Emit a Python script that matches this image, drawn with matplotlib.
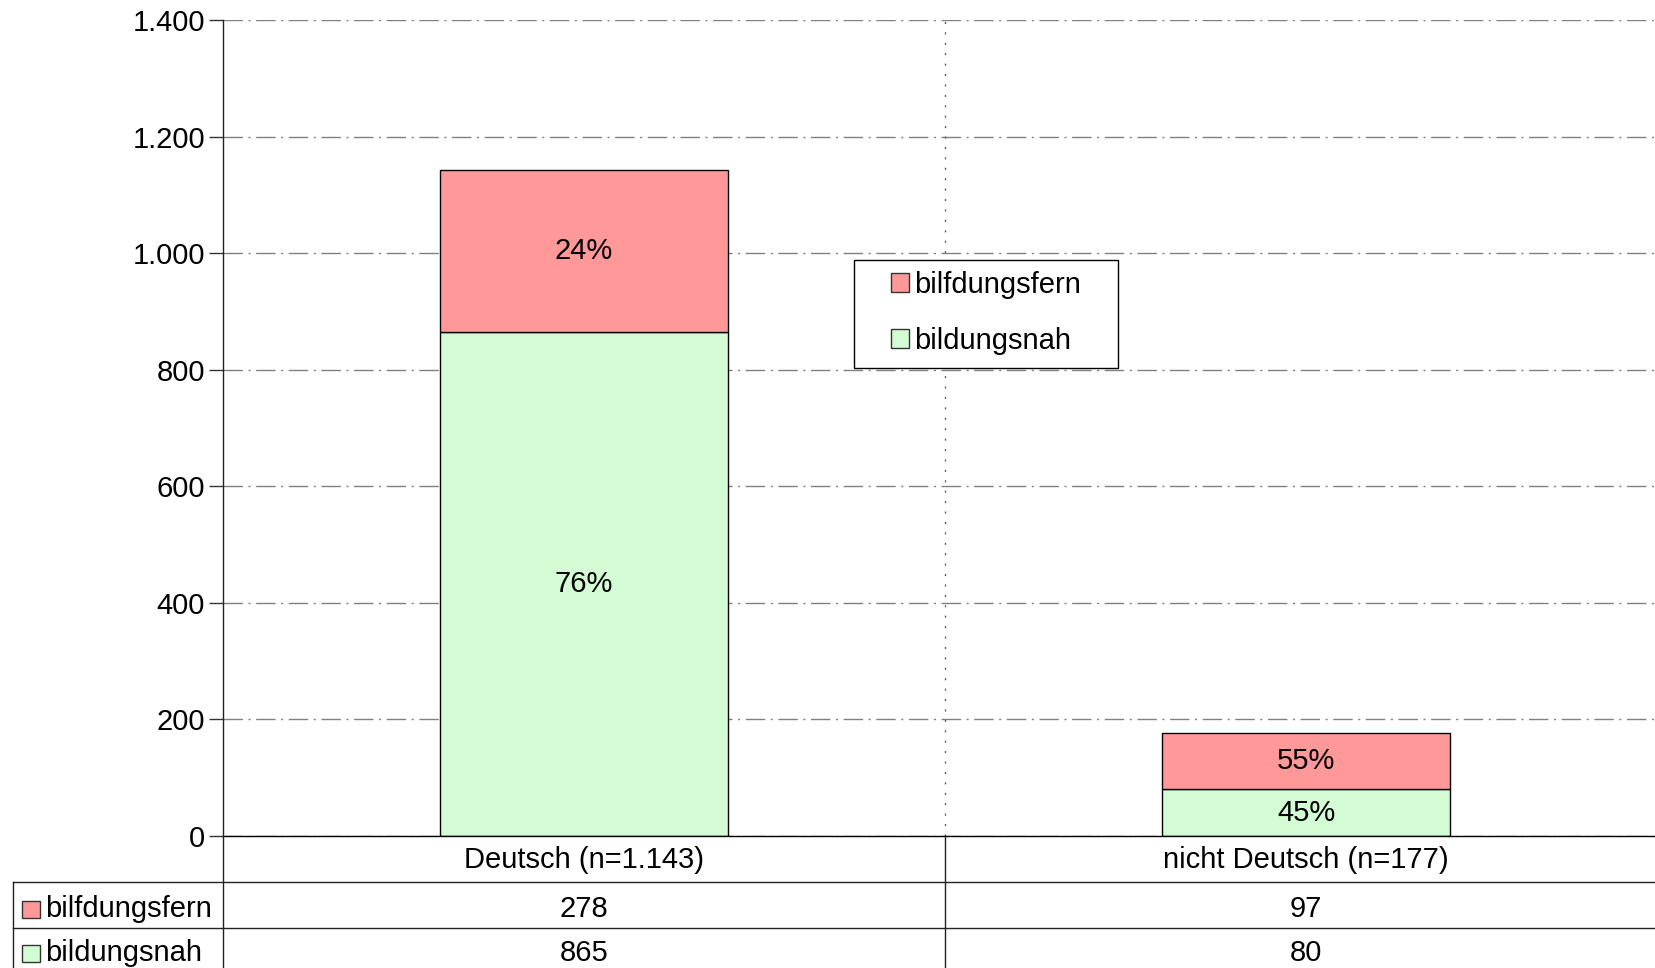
import matplotlib.pyplot as plt
import matplotlib.ticker as mticker
import matplotlib.transforms as mtransforms
from matplotlib.patches import Rectangle, Patch
from matplotlib.lines import Line2D

plt.rcParams['font.family'] = ['Liberation Sans', 'DejaVu Sans']

groups = ["Deutsch", "nicht Deutsch"]
series = ["bilfdungsfern", "bildungsnah"]
fern = [278, 97]
nah = [865, 80]
yticks = [0, 200, 400, 600, 800, 1000, 1200, 1400]
colors = {"bilfdungsfern": "#ff9999", "bildungsnah": "#d4fcd4"}
FS = 21

W, H = 1655, 968
fig = plt.figure(figsize=(W / 100, H / 100), dpi=100)


def fx(px):
    return px / W


def fy(py):
    return 1 - py / H


ax = fig.add_axes([fx(223), fy(836), (1655 - 223) / W, (836 - 20) / H])


def dots(v):
    return f"{int(v):,}".replace(",", ".")


x = list(range(len(groups)))
totals = [a + b for a, b in zip(fern, nah)]
ax.bar(x, nah, width=0.4, color=colors["bildungsnah"], edgecolor="black", linewidth=1, zorder=3)
ax.bar(x, fern, bottom=nah, width=0.4, color=colors["bilfdungsfern"], edgecolor="black", linewidth=1, zorder=3)

for i in x:
    ax.text(i, nah[i] / 2, f"{round(nah[i] / totals[i] * 100)}%", ha="center", va="center", fontsize=FS, zorder=4)
    ax.text(i, nah[i] + fern[i] / 2, f"{round(fern[i] / totals[i] * 100)}%", ha="center", va="center", fontsize=FS, zorder=4)

ax.set_xlim(-0.5, -0.5 + 1432 / 722)
ax.set_ylim(0, 1400)
ax.set_yticks(yticks)
ax.yaxis.set_major_formatter(mticker.FuncFormatter(lambda v, p: dots(v)))
ax.set_xticks([])
ax.tick_params(axis="y", length=10, width=1, pad=3, labelsize=FS, color="#333333")
ax.yaxis.grid(True, linestyle=(0, (14, 4, 1.5, 4)), color="#808080", linewidth=1, zorder=1)
ax.axvline(0.5, linestyle=(0, (1.5, 6)), color="#606060", linewidth=1, zorder=1)
ax.set_axisbelow(True)
for s in ["top", "right", "left"]:
    ax.spines[s].set_visible(False)
ax.spines["bottom"].set_linewidth(1)
ax.spines["bottom"].set_zorder(5)

# legend box
ax.add_patch(Rectangle((fx(854), fy(368)), fx(1118) - fx(854), fy(260) - fy(368),
                       transform=fig.transFigure, facecolor="white", edgecolor="black",
                       linewidth=1, clip_on=False, zorder=6))
handles = [Patch(facecolor=colors[s], edgecolor="#333333", linewidth=1) for s in series]
leg = ax.legend(handles, series, loc="center", bbox_to_anchor=(fx(986), fy(313)),
                bbox_transform=fig.transFigure, frameon=False, fontsize=FS,
                handlelength=0.62, handleheight=0.62, handletextpad=0.2, labelspacing=0.95)
leg.set_zorder(7)

# data table below the axis
lines = [
    ((223, 223), (20, 968)),
    ((13, 1655), (882, 882)),
    ((13, 1655), (928, 928)),
    ((13, 13), (882, 968)),
    ((945, 945), (836, 968)),
]
for xs, ys in lines:
    fig.add_artist(Line2D([fx(v) for v in xs], [fy(v) for v in ys], color="#222222", linewidth=1))

tr = mtransforms.blended_transform_factory(ax.transData, fig.transFigure)
rows = [fern, nah]
row_y = [909, 953]
for i in x:
    fig.text(i, fy(860), f"{groups[i]} (n={dots(totals[i])})", transform=tr, ha="center", va="center", fontsize=FS)
    for r, vals in enumerate(rows):
        fig.text(i, fy(row_y[r]), dots(vals[i]), transform=tr, ha="center", va="center", fontsize=FS)

for r, s in enumerate(series):
    fig.add_artist(Rectangle((fx(22), fy(row_y[r] + 9)), fx(18), 17 / H, facecolor=colors[s],
                             edgecolor="#333333", linewidth=1))
    fig.text(fx(45), fy(row_y[r]), s, ha="left", va="center", fontsize=FS)

fig.savefig("out.png", dpi=100)
